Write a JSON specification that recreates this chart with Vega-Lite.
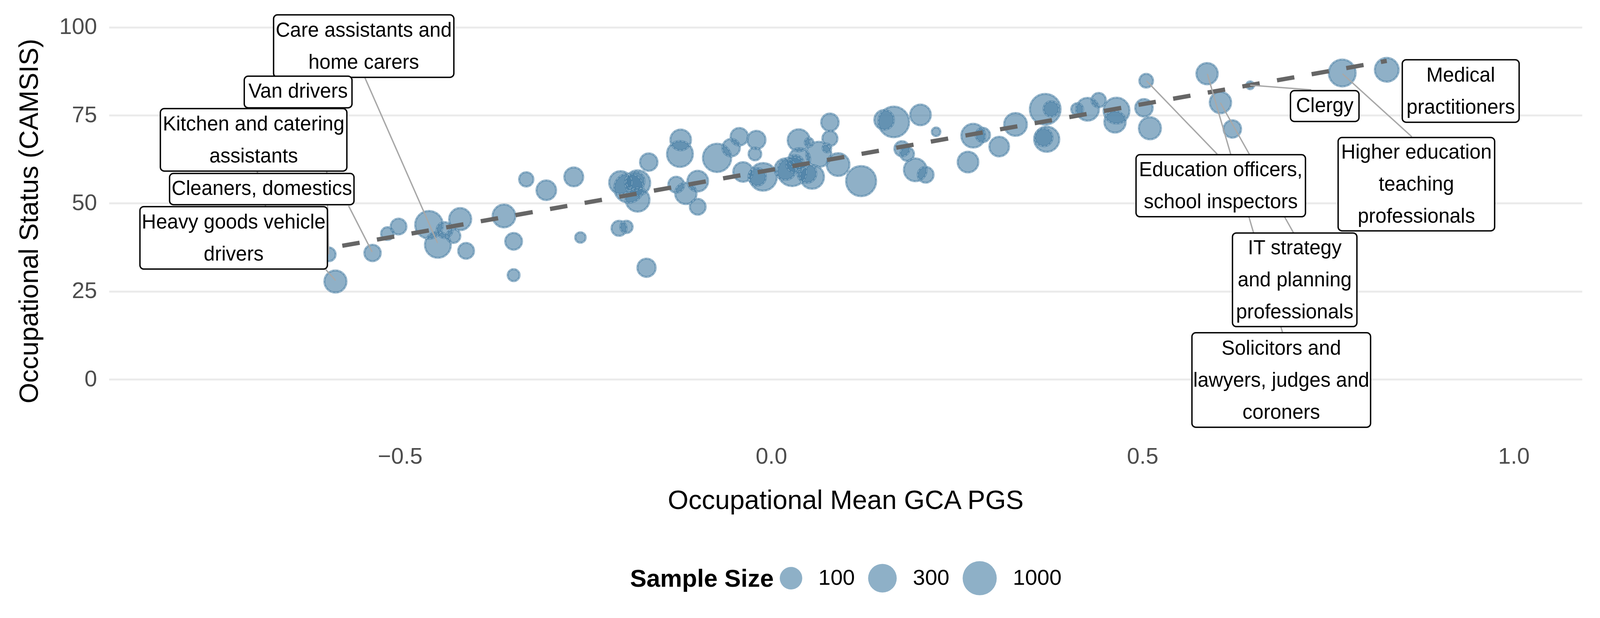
{
  "$schema": "https://vega.github.io/schema/vega-lite/v6.json",
  "autosize": {"type": "none"},
  "padding": {"left": 279, "top": 20, "right": 44, "bottom": 471},
  "width": 3771,
  "height": 1091,
  "background": "white",
  "config": {
    "view": {"stroke": null},
    "font": "Liberation Sans",
    "axis": {"labelFont": "Liberation Sans", "titleFont": "Liberation Sans"},
    "legend": {"labelFont": "Liberation Sans", "titleFont": "Liberation Sans"}
  },
  "datasets": {
    "labels": [
      {"occupation": "Care assistants and\nhome carers", "lines": 2, "lx": -0.5489, "ly": 94.62, "x1": -0.6703, "x2": -0.4275, "y1": 85.76, "y2": 103.49, "sx": -0.5473, "sy": 85.65, "px": -0.4495, "py": 38.75},
      {"occupation": "Van drivers", "lines": 1, "lx": -0.6373, "ly": 81.6, "x1": -0.7098, "x2": -0.5647, "y1": 77.11, "y2": 86.09, "sx": -0.6006, "sy": 77.11, "px": -0.5961, "py": 35.53},
      {"occupation": "Kitchen and catering\nassistants", "lines": 2, "lx": -0.6972, "ly": 68.02, "x1": -0.8228, "x2": -0.5716, "y1": 59.15, "y2": 76.88, "sx": -0.6925, "sy": 59.15, "px": -0.6708, "py": 40.08},
      {"occupation": "Cleaners, domestics", "lines": 1, "lx": -0.6862, "ly": 54.05, "x1": -0.8104, "x2": -0.562, "y1": 49.61, "y2": 58.48, "sx": -0.5693, "sy": 49.28, "px": -0.5376, "py": 36.2},
      {"occupation": "Heavy goods vehicle\ndrivers", "lines": 2, "lx": -0.7241, "ly": 40.19, "x1": -0.8503, "x2": -0.5978, "y1": 31.32, "y2": 49.06, "sx": -0.6001, "sy": 31.21, "px": -0.5868, "py": 28.1},
      {"occupation": "Education officers,\nschool inspectors", "lines": 2, "lx": 0.6054, "ly": 54.99, "x1": 0.4913, "x2": 0.7195, "y1": 46.18, "y2": 63.8, "sx": 0.6006, "sy": 63.96, "px": 0.5054, "py": 84.76},
      {"occupation": "Clergy", "lines": 1, "lx": 0.7455, "ly": 77.6, "x1": 0.6993, "x2": 0.7916, "y1": 73.23, "y2": 81.98, "sx": 0.7273, "sy": 82.21, "px": 0.6451, "py": 83.54},
      {"occupation": "Medical\npractitioners", "lines": 2, "lx": 0.9286, "ly": 81.87, "x1": 0.8499, "x2": 1.0073, "y1": 73.0, "y2": 90.74, "sx": null, "sy": null, "px": null, "py": null},
      {"occupation": "Higher education\nteaching\nprofessionals", "lines": 3, "lx": 0.8689, "ly": 55.43, "x1": 0.7635, "x2": 0.9743, "y1": 42.18, "y2": 68.68, "sx": 0.8627, "sy": 68.9, "px": 0.7694, "py": 86.75},
      {"occupation": "IT strategy\nand planning\nprofessionals", "lines": 3, "lx": 0.705, "ly": 28.28, "x1": 0.6212, "x2": 0.7888, "y1": 14.99, "y2": 41.57, "sx": 0.7034, "sy": 41.63, "px": 0.6049, "py": 78.55},
      {"occupation": "Solicitors and\nlawyers, judges and\ncoroners", "lines": 3, "lx": 0.6869, "ly": -0.17, "x1": 0.5666, "x2": 0.8072, "y1": -13.58, "y2": 13.25, "sx": 0.6887, "sy": 13.25, "px": 0.5874, "py": 86.72}
    ]
  },
  "data": {
    "values": [
      {"pgs": -0.587, "camsis": 27.8, "n": 95},
      {"pgs": -0.596, "camsis": 35.5, "n": 33},
      {"pgs": -0.537, "camsis": 35.9, "n": 44},
      {"pgs": -0.517, "camsis": 41.4, "n": 30},
      {"pgs": -0.502, "camsis": 43.4, "n": 41},
      {"pgs": -0.461, "camsis": 43.9, "n": 250},
      {"pgs": -0.449, "camsis": 38.2, "n": 181},
      {"pgs": -0.44, "camsis": 42.4, "n": 41},
      {"pgs": -0.428, "camsis": 40.7, "n": 33},
      {"pgs": -0.419, "camsis": 45.5, "n": 95},
      {"pgs": -0.411, "camsis": 36.5, "n": 41},
      {"pgs": -0.36, "camsis": 46.4, "n": 106},
      {"pgs": -0.347, "camsis": 39.2, "n": 46},
      {"pgs": -0.347, "camsis": 29.6, "n": 28},
      {"pgs": -0.33, "camsis": 56.8, "n": 35},
      {"pgs": -0.303, "camsis": 53.7, "n": 66},
      {"pgs": -0.266, "camsis": 57.5, "n": 60},
      {"pgs": -0.257, "camsis": 40.3, "n": 25},
      {"pgs": -0.203, "camsis": 55.9, "n": 106},
      {"pgs": -0.192, "camsis": 54.3, "n": 330},
      {"pgs": -0.18, "camsis": 55.8, "n": 159},
      {"pgs": -0.183, "camsis": 56.3, "n": 55},
      {"pgs": -0.18, "camsis": 51.0, "n": 125},
      {"pgs": -0.165, "camsis": 61.7, "n": 50},
      {"pgs": -0.205, "camsis": 42.9, "n": 38},
      {"pgs": -0.195, "camsis": 43.3, "n": 29},
      {"pgs": -0.168, "camsis": 31.7, "n": 55},
      {"pgs": -0.122, "camsis": 68.0, "n": 77},
      {"pgs": -0.123, "camsis": 64.0, "n": 181},
      {"pgs": -0.128, "camsis": 55.3, "n": 41},
      {"pgs": -0.115, "camsis": 52.8, "n": 85},
      {"pgs": -0.099, "camsis": 56.3, "n": 77},
      {"pgs": -0.099, "camsis": 49.0, "n": 41},
      {"pgs": -0.073, "camsis": 62.9, "n": 287},
      {"pgs": -0.054, "camsis": 65.8, "n": 50},
      {"pgs": -0.043, "camsis": 68.9, "n": 50},
      {"pgs": -0.02, "camsis": 68.0, "n": 55},
      {"pgs": -0.022, "camsis": 64.0, "n": 30},
      {"pgs": -0.038, "camsis": 58.9, "n": 66},
      {"pgs": -0.011, "camsis": 57.5, "n": 250},
      {"pgs": -0.019, "camsis": 57.5, "n": 50},
      {"pgs": 0.019, "camsis": 59.7, "n": 85},
      {"pgs": 0.028, "camsis": 59.0, "n": 330},
      {"pgs": 0.032, "camsis": 61.2, "n": 50},
      {"pgs": 0.037, "camsis": 67.9, "n": 95},
      {"pgs": 0.038, "camsis": 62.6, "n": 85},
      {"pgs": 0.048, "camsis": 58.5, "n": 60},
      {"pgs": 0.055, "camsis": 57.5, "n": 125},
      {"pgs": 0.051, "camsis": 67.3, "n": 22},
      {"pgs": 0.064, "camsis": 63.9, "n": 159},
      {"pgs": 0.079, "camsis": 73.0, "n": 50},
      {"pgs": 0.079, "camsis": 68.4, "n": 38},
      {"pgs": 0.075, "camsis": 65.7, "n": 22},
      {"pgs": 0.09, "camsis": 61.0, "n": 106},
      {"pgs": 0.121, "camsis": 56.3, "n": 409},
      {"pgs": 0.152, "camsis": 73.7, "n": 66},
      {"pgs": 0.165, "camsis": 73.1, "n": 474},
      {"pgs": 0.201, "camsis": 75.1, "n": 77},
      {"pgs": 0.222, "camsis": 70.3, "n": 22},
      {"pgs": 0.176, "camsis": 65.5, "n": 38},
      {"pgs": 0.183, "camsis": 64.0, "n": 33},
      {"pgs": 0.194, "camsis": 59.5, "n": 106},
      {"pgs": 0.208, "camsis": 58.1, "n": 41},
      {"pgs": 0.272, "camsis": 69.2, "n": 125},
      {"pgs": 0.285, "camsis": 69.4, "n": 35},
      {"pgs": 0.265, "camsis": 61.7, "n": 77},
      {"pgs": 0.307, "camsis": 66.1, "n": 66},
      {"pgs": 0.329, "camsis": 72.4, "n": 106},
      {"pgs": 0.369, "camsis": 76.7, "n": 474},
      {"pgs": 0.377, "camsis": 76.8, "n": 38},
      {"pgs": 0.367, "camsis": 68.7, "n": 50},
      {"pgs": 0.371, "camsis": 68.2, "n": 159},
      {"pgs": 0.412, "camsis": 76.7, "n": 28},
      {"pgs": 0.426, "camsis": 76.7, "n": 106},
      {"pgs": 0.441, "camsis": 79.3, "n": 35},
      {"pgs": 0.465, "camsis": 76.3, "n": 181},
      {"pgs": 0.463, "camsis": 73.1, "n": 85},
      {"pgs": 0.502, "camsis": 77.1, "n": 50},
      {"pgs": 0.51, "camsis": 71.3, "n": 95},
      {"pgs": 0.505, "camsis": 84.8, "n": 33},
      {"pgs": 0.587, "camsis": 86.8, "n": 85},
      {"pgs": 0.605, "camsis": 78.6, "n": 85},
      {"pgs": 0.621, "camsis": 71.1, "n": 50},
      {"pgs": 0.645, "camsis": 83.5, "n": 21},
      {"pgs": 0.769, "camsis": 87.0, "n": 219},
      {"pgs": 0.829, "camsis": 87.9, "n": 125},
      {"pgs": -0.671, "camsis": 40.1, "n": 40}
    ]
  },
  "layer": [
    {
      "mark": {"type": "point", "shape": "circle", "filled": true, "fill": "#4a80a5", "stroke": "#4a80a5", "strokeWidth": 5, "fillOpacity": 0.62, "strokeOpacity": 0.62},
      "encoding": {
        "x": {"field": "pgs", "type": "quantitative", "scale": {"domain": [-0.892, 1.092], "nice": false, "zero": false},
          "axis": {"title": "Occupational Mean GCA PGS", "values": [-0.5, 0, 0.5, 1], "format": ".1f", "grid": false, "domain": false, "ticks": false, "labelFontSize": 58, "labelColor": "#4d4d4d", "labelPadding": 29, "titleFontSize": 68, "titleFontWeight": "normal", "titleColor": "black", "titlePadding": 50}},
        "y": {"field": "camsis", "type": "quantitative", "scale": {"domain": [-15.5, 105.5], "nice": false, "zero": false},
          "axis": {"title": "Occupational Status (CAMSIS)", "values": [0, 25, 50, 75, 100], "grid": true, "gridColor": "#ebebeb", "gridWidth": 5, "domain": false, "ticks": false, "labelFontSize": 58, "labelColor": "#4d4d4d", "labelPadding": 31, "titleFontSize": 68, "titleFontWeight": "normal", "titleColor": "black", "titlePadding": 41}},
        "size": {"field": "n", "type": "quantitative", "scale": {"type": "log", "domain": [100, 1000], "range": [3318, 7620]},
          "legend": {"title": "Sample Size", "orient": "none", "legendX": 1334, "legendY": 1414, "direction": "horizontal", "values": [100, 300, 1000], "format": "d", "titleOrient": "left", "titleAnchor": "middle", "titleBaseline": "middle", "titleFontSize": 63, "titleFontWeight": "bold", "titleColor": "black", "titleLimit": 2000, "titlePadding": 13, "labelFontSize": 56, "labelColor": "black", "labelOffset": 39, "labelLimit": 1000, "columnPadding": 25, "padding": 0, "symbolType": "circle", "symbolFillColor": "#4a80a5", "symbolStrokeColor": "#4a80a5", "symbolStrokeWidth": 4, "symbolOpacity": 0.62}}
      }
    },
    {
      "mark": {"type": "point", "shape": "circle", "filled": false, "stroke": "white", "strokeWidth": 1.3, "strokeDash": [6, 4], "strokeOpacity": 0.6},
      "encoding": {
        "x": {"field": "pgs", "type": "quantitative"},
        "y": {"field": "camsis", "type": "quantitative"},
        "size": {"field": "n", "type": "quantitative", "legend": null}
      }
    },
    {
      "transform": [{"regression": "camsis", "on": "pgs"}],
      "mark": {"type": "line", "color": "#666666", "strokeWidth": 11, "strokeDash": [45, 45], "strokeCap": "butt"},
      "encoding": {
        "x": {"field": "pgs", "type": "quantitative"},
        "y": {"field": "camsis", "type": "quantitative"}
      }
    },
    {
      "data": {"name": "labels"},
      "transform": [{"filter": "datum.sx != null"}],
      "mark": {"type": "rule", "color": "#a8a8a8", "strokeWidth": 3.5},
      "encoding": {
        "x": {"field": "sx", "type": "quantitative"},
        "y": {"field": "sy", "type": "quantitative"},
        "x2": {"field": "px"},
        "y2": {"field": "py"}
      }
    },
    {
      "data": {"name": "labels"},
      "mark": {"type": "rect", "fill": "white", "stroke": "black", "strokeWidth": 3.5, "cornerRadius": 10},
      "encoding": {
        "x": {"field": "x1", "type": "quantitative"},
        "x2": {"field": "x2"},
        "y": {"field": "y1", "type": "quantitative"},
        "y2": {"field": "y2"}
      }
    },
    {
      "data": {"name": "labels"},
      "transform": [{"filter": "datum.lines == 1"}],
      "mark": {"type": "text", "align": "center", "baseline": "middle", "fontSize": 51, "font": "Liberation Sans", "color": "black", "lineBreak": "\n", "lineHeight": 82},
      "encoding": {
        "x": {"field": "lx", "type": "quantitative"},
        "y": {"field": "ly", "type": "quantitative"},
        "text": {"field": "occupation", "type": "nominal"}
      }
    },
    {
      "data": {"name": "labels"},
      "transform": [{"filter": "datum.lines == 2"}],
      "mark": {"type": "text", "align": "center", "baseline": "middle", "dy": -39, "fontSize": 51, "font": "Liberation Sans", "color": "black", "lineBreak": "\n", "lineHeight": 82},
      "encoding": {
        "x": {"field": "lx", "type": "quantitative"},
        "y": {"field": "ly", "type": "quantitative"},
        "text": {"field": "occupation", "type": "nominal"}
      }
    },
    {
      "data": {"name": "labels"},
      "transform": [{"filter": "datum.lines == 3"}],
      "mark": {"type": "text", "align": "center", "baseline": "middle", "dy": -80, "fontSize": 51, "font": "Liberation Sans", "color": "black", "lineBreak": "\n", "lineHeight": 82},
      "encoding": {
        "x": {"field": "lx", "type": "quantitative"},
        "y": {"field": "ly", "type": "quantitative"},
        "text": {"field": "occupation", "type": "nominal"}
      }
    }
  ]
}
